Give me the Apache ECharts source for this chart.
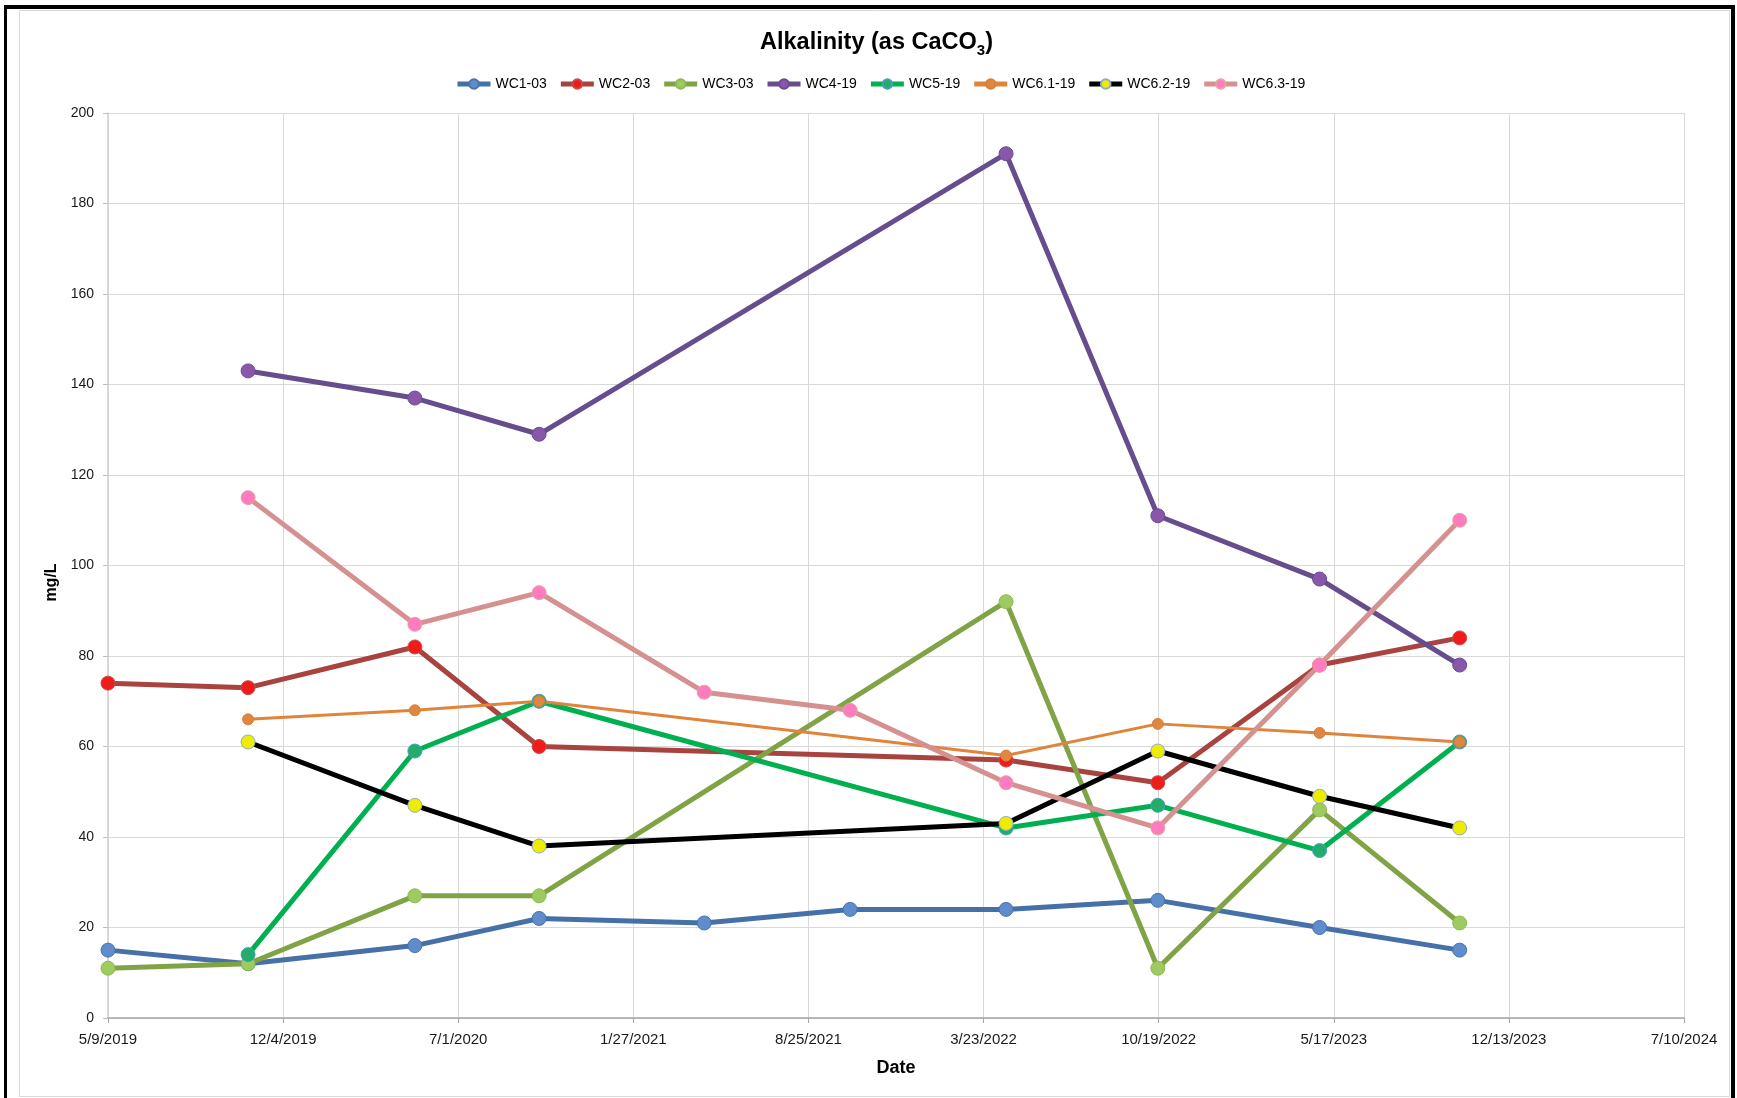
<!DOCTYPE html>
<html>
<head>
<meta charset="utf-8">
<script src="https://cdn.jsdelivr.net/npm/echarts@6/dist/echarts.min.js"></script>
<style>
html,body{margin:0;padding:0;background:#ffffff;}
#chart{width:1737px;height:1098px;}
</style>
</head>
<body>
<div id="chart"></div>
<script>
// ---------------- data ----------------
const sampleDates = ['2019-05-09','2019-10-24','2020-05-11','2020-10-07','2021-04-23',
                     '2021-10-15','2022-04-20','2022-10-19','2023-05-01','2023-10-16'];
const xTickLabels = ['5/9/2019','12/4/2019','7/1/2020','1/27/2021','8/25/2021',
                     '3/23/2022','10/19/2022','5/17/2023','12/13/2023','7/10/2024'];
const seriesNames = ['WC1-03','WC2-03','WC3-03','WC4-19','WC5-19','WC6.1-19','WC6.2-19','WC6.3-19'];
const wc1_03  = [15, 12, 16, 22, 21, 24, 24, 26, 20, 15];
const wc2_03  = [74, 73, 82, 60, null, null, 57, 52, 78, 84];
const wc3_03  = [11, 12, 27, 27, null, null, 92, 11, 46, 21];
const wc4_19  = [null, 143, 137, 129, null, null, 191, 111, 97, 78];
const wc5_19  = [null, 14, 59, 70, null, null, 42, 47, 37, 61];
const wc61_19 = [null, 66, 68, 70, null, null, 58, 65, 63, 61];
const wc62_19 = [null, 61, 47, 38, null, null, 43, 59, 49, 42];
const wc63_19 = [null, 115, 87, 94, 72, 68, 52, 42, 78, 110];
const seriesValues = [wc1_03, wc2_03, wc3_03, wc4_19, wc5_19, wc61_19, wc62_19, wc63_19];

// ---------------- axis settings ----------------
const axisStartDate = '2019-05-09';
const tickStepDays = 210;
const tickCount = xTickLabels.length - 1;

// ---------------- styles ----------------
const seriesStyles = [
  {line:'#4570A8', fill:'#5E8CCC', border:'#4A74A8', width:5, size:14},
  {line:'#A8433F', fill:'#F21B1B', border:'#C0504D', width:5, size:14},
  {line:'#80A445', fill:'#9DCB60', border:'#8DB951', width:5, size:14},
  {line:'#664D8D', fill:'#8957AA', border:'#6B4B93', width:5, size:14},
  {line:'#00B050', fill:'#22AE6A', border:'#4B9DBE', width:5, size:14},
  {line:'#E0843B', fill:'#DD8740', border:'#D98038', width:3, size:11},
  {line:'#000000', fill:'#EDED00', border:'#8FAAD0', width:5, size:14},
  {line:'#D4918F', fill:'#FF7BC0', border:'#E5A3A6', width:5, size:14}
];

const fontFamily = "'Liberation Sans', Arial, sans-serif";
const dayMs = 86400000;
const toDay = s => (Date.parse(s + 'T00:00:00Z') - Date.parse(axisStartDate + 'T00:00:00Z')) / dayMs;

const series = seriesNames.map((name, i) => {
  const st = seriesStyles[i];
  const data = sampleDates.map((d, j) => [toDay(d), seriesValues[i][j]])
                          .filter(p => p[1] !== null);
  return {
    name: name,
    type: 'line',
    data: data,
    symbol: 'circle',
    symbolSize: st.size,
    showAllSymbol: true,
    lineStyle: {color: st.line, width: st.width},
    itemStyle: {color: st.fill, borderColor: st.border, borderWidth: 1},
    emphasis: {disabled: true},
    animation: false
  };
});

const chart = echarts.init(document.getElementById('chart'), null, {renderer: 'canvas'});
chart.setOption({
  backgroundColor: '#ffffff',
  animation: false,
  textStyle: {fontFamily: fontFamily},
  title: {
    text: '{a|Alkalinity (as CaCO}{s|3}{a|)}',
    left: 755,
    top: 22,
    textStyle: {
      rich: {
        a: {fontSize: 23.5, fontWeight: 'bold', color: '#000', fontFamily: fontFamily, lineHeight: 31},
        s: {fontSize: 15, fontWeight: 'bold', color: '#000', fontFamily: fontFamily, verticalAlign: 'bottom'}
      }
    }
  },
  legend: {
    top: 72,
    left: 450,
    itemWidth: 33,
    itemHeight: 12,
    itemGap: 11.5,
    lineStyle: {width: 5},
    textStyle: {fontSize: 14, color: '#000', fontFamily: fontFamily},
    data: seriesNames
  },
  grid: {left: 108, right: 53, top: 113, bottom: 80, containLabel: false},
  xAxis: {
    type: 'value',
    min: 0,
    max: tickStepDays * tickCount,
    interval: tickStepDays,
    name: 'Date',
    nameLocation: 'middle',
    nameGap: 41,
    nameTextStyle: {fontSize: 18, fontWeight: 'bold', color: '#000', fontFamily: fontFamily},
    axisLine: {show: true, lineStyle: {color: '#A6A6A6', width: 1.5}},
    axisTick: {show: true, length: 5, lineStyle: {color: '#A6A6A6'}},
    axisLabel: {
      fontSize: 15, color: '#1a1a1a', margin: 14, fontFamily: fontFamily,
      showMinLabel: true, showMaxLabel: true,
      formatter: v => xTickLabels[Math.round(v / tickStepDays)] || ''
    },
    splitLine: {show: true, lineStyle: {color: '#D9D9D9', width: 1}}
  },
  yAxis: {
    type: 'value',
    min: 0,
    max: 200,
    interval: 20,
    name: 'mg/L',
    nameLocation: 'middle',
    nameGap: 38,
    nameTextStyle: {fontSize: 16, fontWeight: 'bold', color: '#000', fontFamily: fontFamily, padding: [0, 34, 0, 0]},
    axisLine: {show: true, lineStyle: {color: '#D0D0D0', width: 1.5}},
    axisTick: {show: true, length: 5, lineStyle: {color: '#BFBFBF'}},
    axisLabel: {fontSize: 14, color: '#1a1a1a', margin: 14, fontFamily: fontFamily},
    splitLine: {show: true, lineStyle: {color: '#D9D9D9', width: 1}}
  },
  graphic: [
    {type: 'rect', shape: {x: 19.5, y: 10.5, width: 1710, height: 1086}, style: {fill: 'none', stroke: '#D9D9D9', lineWidth: 1}, silent: true, z: -10},
    {type: 'rect', shape: {x: 4, y: 5, width: 1731, height: 4}, style: {fill: '#000'}, silent: true},
    {type: 'rect', shape: {x: 4, y: 5, width: 3, height: 1093}, style: {fill: '#000'}, silent: true},
    {type: 'rect', shape: {x: 1731, y: 5, width: 4, height: 1093}, style: {fill: '#000'}, silent: true}
  ],
  series: series
});
</script>
</body>
</html>
